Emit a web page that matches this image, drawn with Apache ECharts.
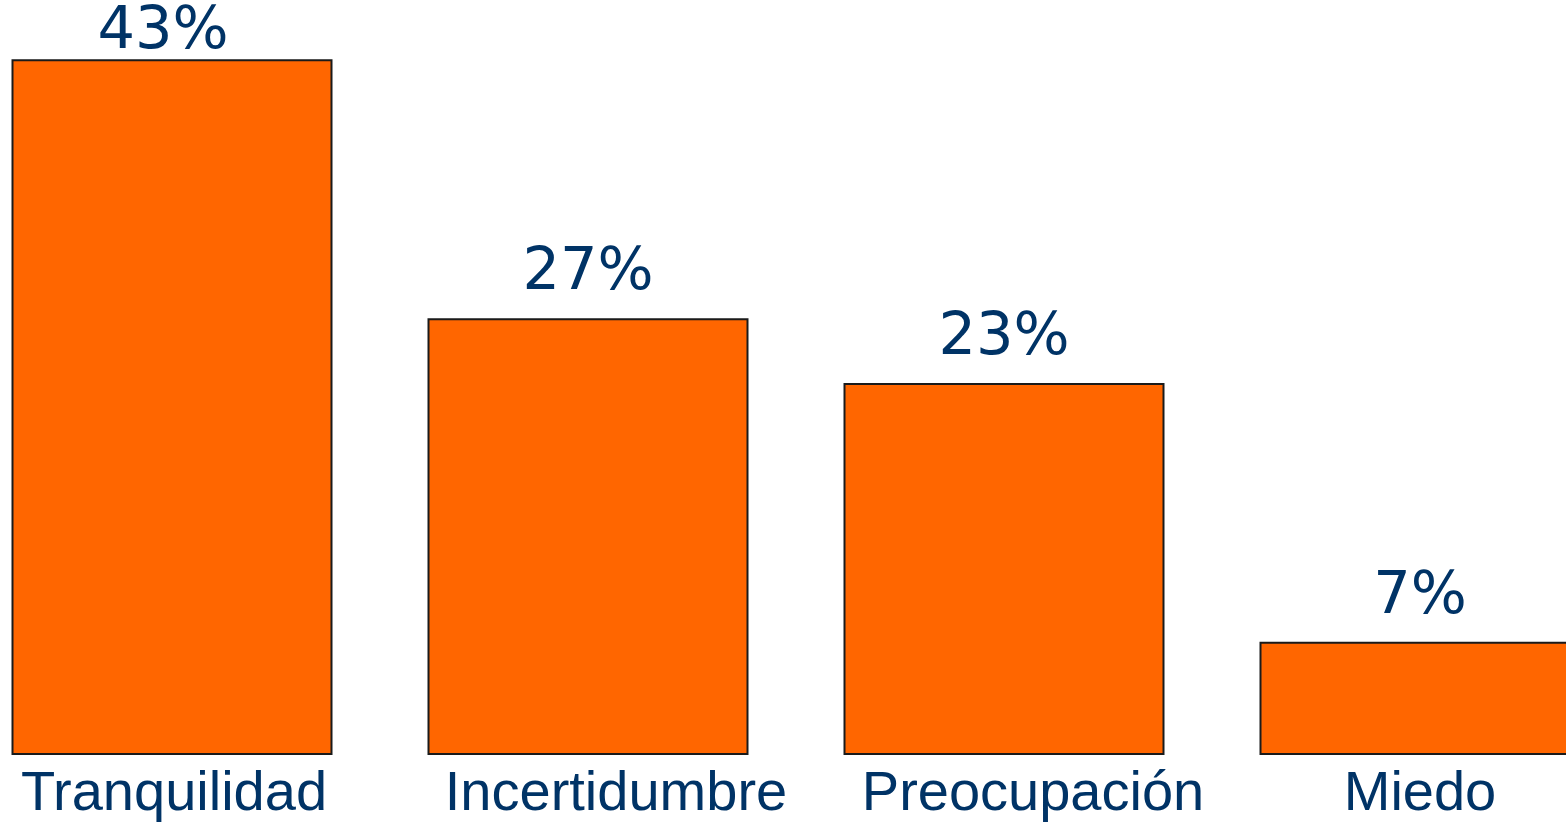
<!DOCTYPE html>
<html>
<head>
<meta charset="utf-8">
<script src="https://cdn.jsdelivr.net/npm/echarts@6/dist/echarts.min.js"></script>
<style>
html,body{margin:0;padding:0;overflow:hidden;background:#fff;width:1566px;height:825px;}
#c{position:absolute;left:-36px;top:0;width:1664px;height:825px;}
</style>
</head>
<body>
<div id="c"></div>
<script>
const categories = ['Tranquilidad', 'Incertidumbre', 'Preocupación', 'Miedo'];
const values = [43, 27, 23, 7];
const labelShift = [4, 56, 58, 0];

const chart = echarts.init(document.getElementById('c'), null, {renderer: 'canvas'});
chart.setOption({
  animation: false,
  grid: {left: 0, right: 0, top: 27, bottom: 70},
  xAxis: {
    type: 'category',
    data: categories.map((c, i) => ({
      value: c,
      textStyle: {padding: [0, 0, 0, labelShift[i]]}
    })),
    axisLine: {show: false},
    axisTick: {show: false},
    axisLabel: {
      interval: 0,
      hideOverlap: false,
      color: '#003366',
      fontFamily: 'Liberation Sans',
      fontSize: 56,
      margin: 12
    }
  },
  yAxis: {
    type: 'value', min: 0, max: 45, show: false,
    splitLine: {show: false}
  },
  series: [{
    type: 'bar',
    barWidth: 321,
    data: values.map((v, i) => ({
      value: v,
      label: i === 0 ? {distance: -3, offset: [-9, 0]} : undefined
    })),
    itemStyle: {color: '#FF6600', borderColor: '#1a1a1a', borderWidth: 2},
    label: {
      show: true,
      position: 'top',
      distance: 15,
      formatter: '{c}%',
      color: '#003366',
      fontFamily: 'DejaVu Sans',
      fontSize: 59
    }
  }]
});
</script>
</body>
</html>
